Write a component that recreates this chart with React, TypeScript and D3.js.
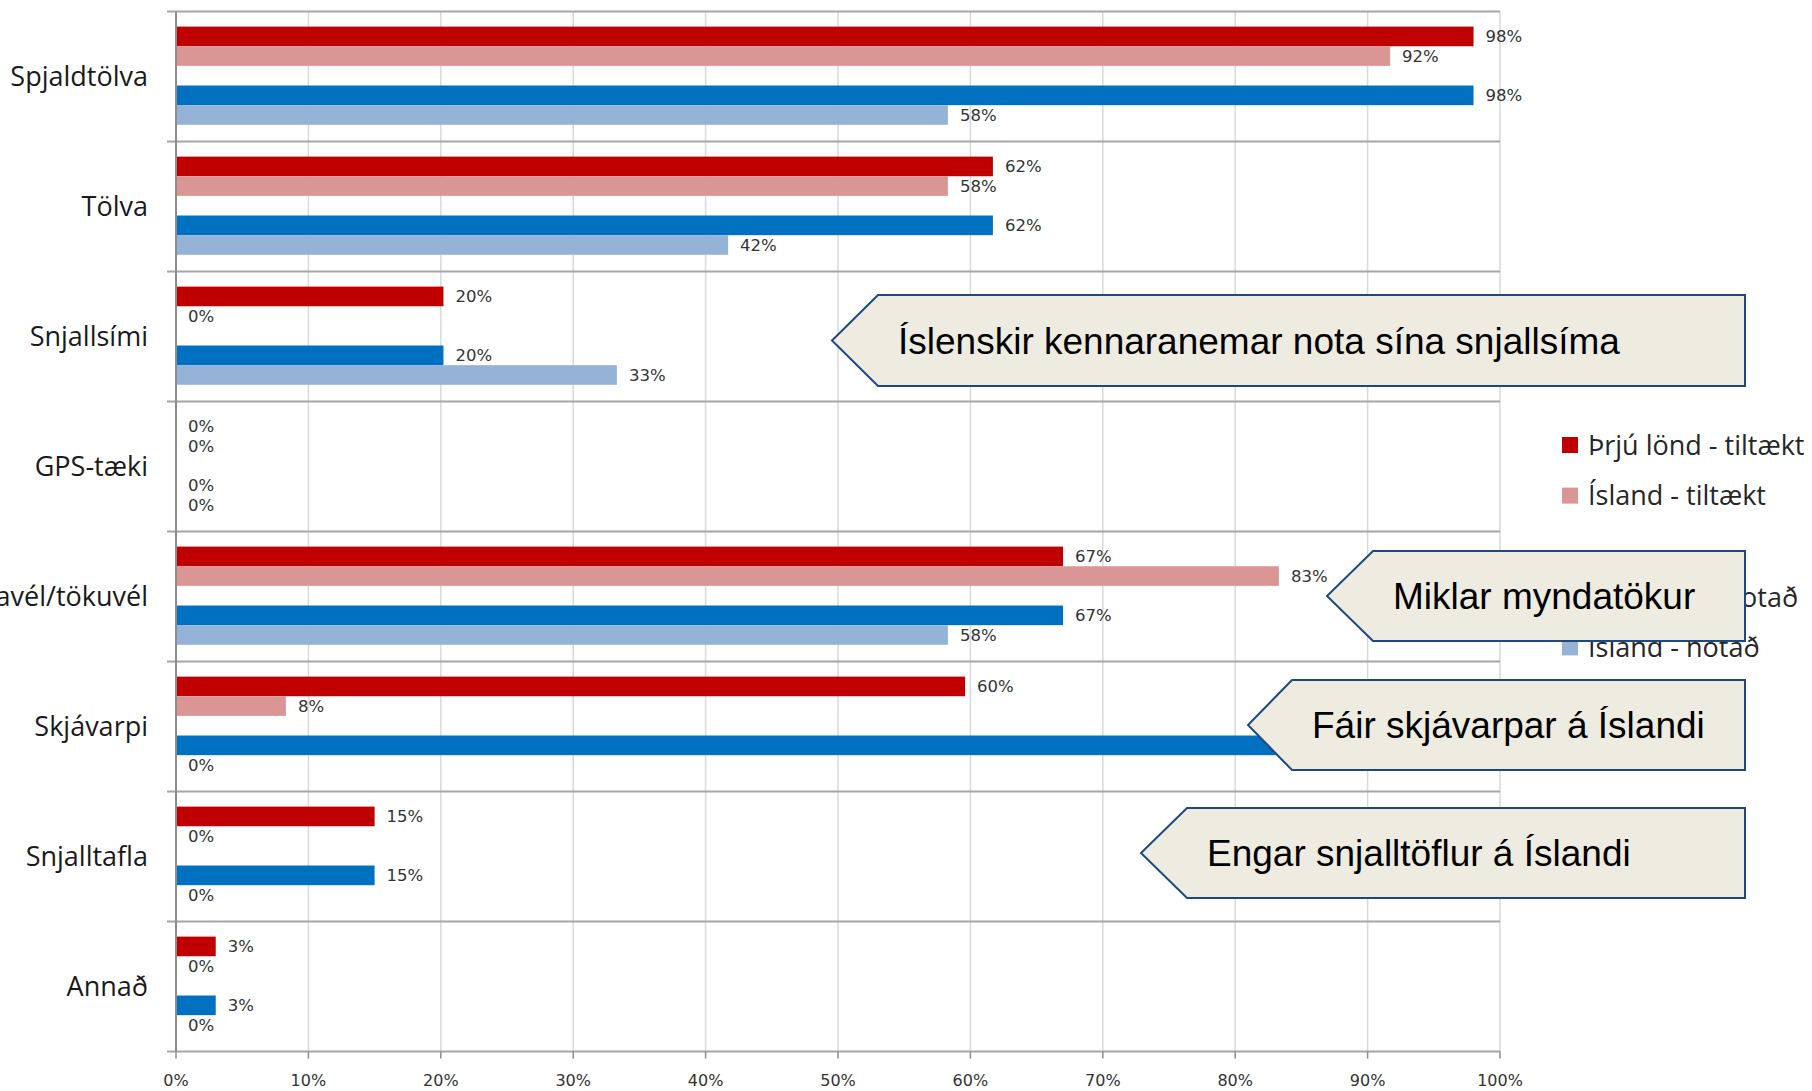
import React, { useEffect, useRef } from 'react';
import * as d3 from 'd3';

// categories (top to bottom)
const categories = ['Spjaldtölva', 'Tölva', 'Snjallsími', 'GPS-tæki', 'Myndavél/tökuvél', 'Skjávarpi', 'Snjalltafla', 'Annað'];

// series values in %
const threeAvailable = [98, 61.7, 20.2, 0, 67, 59.6, 15, 3];
const icelandAvailable = [91.7, 58.3, 0, 0, 83.3, 8.3, 0, 0];
const threeUsed = [98, 61.7, 20.2, 0, 67, 90, 15, 3];
const icelandUsed = [58.3, 41.7, 33.3, 0, 58.3, 0, 0, 0];

const seriesNames = ['Þrjú lönd - tiltækt', 'Ísland - tiltækt', '', 'Þrjú lönd - notað', 'Ísland - notað'];
const seriesColors = ['#C00000', '#DA9694', 'none', '#0070C0', '#95B3D7'];

const xTicks = [0, 10, 20, 30, 40, 50, 60, 70, 80, 90, 100];

const callouts = [
    { text: 'Íslenskir kennaranemar nota sína snjallsíma', tip: 832, body: 878, top: 295, bottom: 386 },
    { text: 'Miklar myndatökur', tip: 1327, body: 1373, top: 551, bottom: 641 },
    { text: 'Fáir skjávarpar á Íslandi', tip: 1248, body: 1292, top: 680, bottom: 770 },
    { text: 'Engar snjalltöflur á Íslandi', tip: 1141, body: 1187, top: 808, bottom: 898 },
];

const W = 1812;
const H = 1091;

const App = () => {
    const ref = useRef<SVGSVGElement>(null);

    const graph = () => {
        const svg = d3.select(ref.current);
        svg.selectAll('*').remove();

        const left = 176, right = 1500, top = 11.6, bottom = 1051.6;
        const x = d3.scaleLinear().domain([0, 100]).range([left, right]);
        const y = d3.scaleBand().domain(categories).range([top, bottom]);

        // 5 slots per category, the middle one is an empty spacer series
        const slots = d3.scaleBand().domain(['0', '1', '2', '3', '4']).range([15, 113.2]);

        const series = [threeAvailable, icelandAvailable, null, threeUsed, icelandUsed];

        // vertical gridlines
        svg.append('g')
            .selectAll('line')
            .data(xTicks)
            .enter().append('line')
            .attr('x1', d => x(d)).attr('x2', d => x(d))
            .attr('y1', top).attr('y2', bottom)
            .attr('stroke', '#D9D9D9')
            .attr('stroke-width', 1.5);

        // category separators
        const seps = categories.map(c => y(c)!).concat([bottom]);
        svg.append('g')
            .selectAll('line')
            .data(seps)
            .enter().append('line')
            .attr('x1', left - 9).attr('x2', right)
            .attr('y1', d => d).attr('y2', d => d)
            .attr('stroke', '#A6A6A6')
            .attr('stroke-width', 2);

        // left axis
        svg.append('line')
            .attr('x1', left).attr('x2', left)
            .attr('y1', top).attr('y2', bottom)
            .attr('stroke', '#8C8C8C').attr('stroke-width', 2);

        // bottom ticks
        svg.append('g')
            .selectAll('line')
            .data(xTicks)
            .enter().append('line')
            .attr('x1', d => x(d)).attr('x2', d => x(d))
            .attr('y1', bottom).attr('y2', bottom + 7)
            .attr('stroke', '#8C8C8C').attr('stroke-width', 1.5);

        svg.append('g')
            .selectAll('text')
            .data(xTicks)
            .enter().append('text')
            .attr('x', d => x(d))
            .attr('y', bottom + 34)
            .attr('text-anchor', 'middle')
            .style('font-family', 'DejaVu Sans')
            .style('font-size', '16px')
            .attr('fill', '#333')
            .text(d => `${d}%`);

        // bars + value labels
        series.forEach((vals, si) => {
            if (!vals) return;
            const g = svg.append('g');
            g.selectAll('rect')
                .data(vals)
                .enter().append('rect')
                .attr('x', left + 1)
                .attr('y', (d, i) => y(categories[i])! + slots(String(si))!)
                .attr('width', d => Math.max(0, x(d) - left - 1))
                .attr('height', slots.bandwidth())
                .attr('fill', seriesColors[si]);

            g.selectAll('text')
                .data(vals)
                .enter().append('text')
                .attr('x', d => x(d) + 12)
                .attr('y', (d, i) => y(categories[i])! + slots(String(si))! + slots.bandwidth() / 2)
                .attr('dy', '0.36em')
                .style('font-family', 'DejaVu Sans')
                .style('font-size', '16.5px')
                .attr('fill', '#333')
                .text(d => `${Math.round(d)}%`);
        });

        // category labels
        svg.append('g')
            .selectAll('text')
            .data(categories)
            .enter().append('text')
            .attr('x', 148)
            .attr('y', d => y(d)! + y.bandwidth() / 2)
            .attr('dy', '0.34em')
            .attr('text-anchor', 'end')
            .style('font-family', 'Open Sans')
            .style('font-size', '27px')
            .attr('fill', '#1a1a1a')
            .text(d => d);

        // legend
        const legend = svg.append('g')
            .selectAll('g')
            .data(seriesNames)
            .enter().append('g')
            .attr('transform', (d, i) => `translate(1562, ${445 + i * 50.6})`);

        legend.append('rect')
            .attr('y', -8)
            .attr('width', 16).attr('height', 16)
            .attr('fill', (d, i) => seriesColors[i]);

        legend.append('text')
            .attr('x', 26)
            .attr('dy', '0.36em')
            .style('font-family', 'Open Sans')
            .style('font-size', '27px')
            .attr('fill', '#262626')
            .text(d => d);

        // callouts
        const co = svg.append('g')
            .selectAll('g')
            .data(callouts)
            .enter().append('g');

        co.append('path')
            .attr('d', d => {
                const mid = (d.top + d.bottom) / 2;
                return d3.line()([[1745, d.top], [d.body, d.top], [d.tip, mid], [d.body, d.bottom], [1745, d.bottom]]) + 'Z';
            })
            .attr('fill', '#EEECE1')
            .attr('stroke', '#1F497D')
            .attr('stroke-width', 2);

        co.append('text')
            .attr('x', d => d.body + 20)
            .attr('y', d => (d.top + d.bottom) / 2)
            .attr('dy', '0.36em')
            .style('font-family', 'Liberation Sans')
            .style('font-size', '37px')
            .attr('fill', '#000')
            .text(d => d.text);
    };

    useEffect(() => graph());

    return (
        <svg ref={ref} width={W} height={H} style={{ position: 'absolute', left: 0, top: 0, background: '#fff' }}></svg>
    );
};

export default App;
